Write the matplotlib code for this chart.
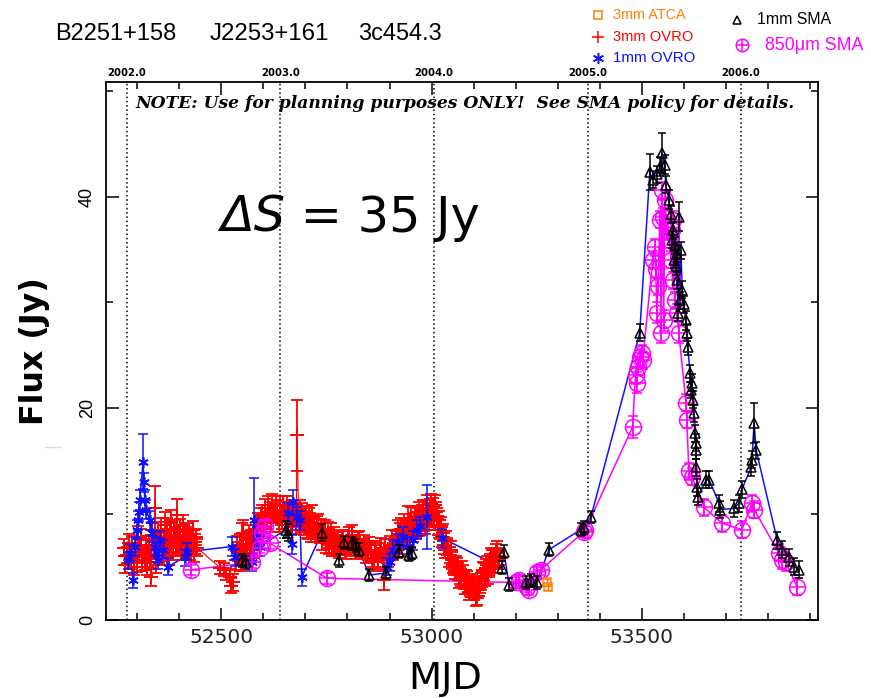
import matplotlib
matplotlib.use('Agg')
import matplotlib.pyplot as plt
from matplotlib.lines import Line2D
from matplotlib.ticker import MultipleLocator
from matplotlib import font_manager
import numpy as np

# ---------------- data ----------------
# 3mm OVRO (red +)
mjd_3mm = [52268, 52272, 52275, 52280, 52283, 52287, 52292, 52295, 52299, 52302, 52304, 52309, 52311, 52314,
           52318, 52320, 52323, 52326, 52328, 52331, 52333, 52335, 52338, 52340, 52342, 52345, 52347, 52350,
           52352, 52356, 52358, 52361, 52364, 52366, 52368, 52371, 52373, 52376, 52378, 52381, 52383, 52385,
           52387, 52390, 52392, 52394, 52397, 52399, 52402, 52404, 52407, 52409, 52411, 52413, 52416, 52418,
           52421, 52423, 52426, 52428, 52432, 52435, 52437, 52440, 52442,
           52497, 52506, 52510, 52520, 52524, 52528, 52535, 52538, 52540, 52544, 52547, 52549, 52552, 52554,
           52558, 52561, 52563, 52566, 52568, 52571, 52573, 52577, 52580, 52583, 52585, 52588,
           52592, 52594, 52597, 52601, 52604, 52606, 52609, 52612, 52616, 52618, 52621, 52624, 52628, 52631,
           52633, 52636, 52639, 52641, 52644, 52646, 52649, 52652, 52656, 52659, 52663, 52666, 52668, 52672,
           52675, 52678, 52680, 52684, 52688, 52691, 52693, 52696, 52698,
           52701, 52703, 52706, 52708, 52710, 52713, 52716, 52718, 52721, 52723, 52727, 52730, 52734, 52737,
           52739, 52742, 52746, 52749, 52751, 52754, 52756, 52758, 52761, 52763, 52765, 52768, 52770, 52775,
           52778, 52780, 52784, 52787, 52790, 52794, 52797, 52801, 52804, 52806, 52811, 52814, 52818, 52821,
           52825, 52828, 52830,
           52837, 52840, 52844, 52848, 52851, 52855, 52858, 52862, 52866, 52869, 52873, 52877, 52880, 52884,
           52887, 52890, 52894, 52897, 52901, 52905, 52909, 52912,
           52915, 52917, 52920, 52922, 52925, 52928, 52930, 52934, 52936, 52939, 52942, 52944, 52946, 52949,
           52951, 52954, 52956, 52958, 52961, 52963, 52966, 52968, 52970, 52972, 52975, 52977, 52980, 52982,
           52985, 52987, 52989, 52991, 52994, 52996, 52998, 53001, 53003, 53006, 53008, 53010, 53013, 53015,
           53018, 53020,
           53023, 53025, 53027, 53029, 53031, 53034, 53036, 53039, 53041, 53044, 53046, 53048, 53051, 53053,
           53056, 53058, 53061, 53063, 53065, 53067, 53070, 53072, 53075, 53077, 53079, 53082, 53084, 53086,
           53088, 53091, 53094, 53096, 53099, 53101, 53103, 53105, 53108, 53110, 53112, 53115, 53117, 53120,
           53122, 53124, 53127, 53129, 53132, 53134, 53136, 53139, 53141, 53143, 53146, 53148, 53151, 53153,
           53156, 53158, 53160]
flux_3mm = [6.8, 5.2, 6.1, 7.2, 5.6, 7.0, 5.0, 6.4, 5.3, 7.8, 6.8, 7.5, 5.4, 6.1,
            5.6, 7.0, 5.0, 6.2, 7.0, 5.8, 4.0, 8.0, 7.6, 6.6, 10.5, 5.2, 7.5, 8.2,
            6.1, 8.5, 6.4, 7.0, 7.6, 8.9, 6.6, 8.6, 7.5, 6.0, 8.0, 9.2, 7.0, 6.4,
            8.5, 7.8, 6.8, 9.9, 7.0, 8.0, 8.6, 7.0, 6.4, 8.8, 8.0, 7.5, 6.6, 8.3,
            7.8, 7.0, 6.4, 7.7, 8.5, 6.2, 7.3, 7.8, 6.8,
            4.9, 4.7, 4.3, 4.0, 3.2, 3.5, 5.6, 6.8, 6.4, 7.0, 5.4, 7.8, 8.2, 6.1,
            6.8, 6.0, 7.5, 8.0, 6.3, 7.6, 7.0, 6.6, 8.0, 8.6, 7.5, 9.2,
            8.9, 9.6, 9.9, 8.6, 10.5, 9.6, 9.4, 10.8, 10.2, 9.2, 10.8, 10.0, 9.9, 10.8,
            10.4, 9.2, 10.8, 9.8, 9.4, 10.8, 10.2, 9.8, 10.6, 10.2, 9.7, 9.0, 10.4, 9.6,
            10.1, 9.0, 17.4, 9.4, 10.4, 9.9, 9.2, 8.9, 9.8,
            9.4, 8.6, 8.5, 9.6, 9.2, 8.2, 9.6, 8.7, 8.8, 8.2, 8.9, 9.0, 8.0, 8.6,
            7.5, 8.2, 8.5, 7.2, 7.7, 8.2, 7.0, 7.6, 8.0, 6.8, 7.2, 7.8, 6.8, 7.5,
            7.2, 6.6, 6.9, 7.7, 7.6, 7.0, 6.5, 7.5, 7.8, 6.8, 8.0, 7.2, 7.0, 6.5,
            7.5, 7.6, 6.6,
            6.8, 7.2, 6.1, 6.4, 7.0, 6.6, 5.8, 5.4, 6.6, 6.2, 5.6, 6.4, 6.8, 5.8,
            3.7, 6.8, 6.1, 5.8, 7.0, 7.6, 6.4, 6.8,
            7.5, 6.8, 8.5, 7.6, 8.0, 8.6, 7.0, 8.9, 7.6, 8.3, 8.6, 9.4, 8.2, 7.7,
            9.6, 8.7, 8.2, 9.2, 9.8, 8.5, 8.8, 9.6, 10.2, 8.9, 9.0, 9.9, 10.4, 9.2,
            9.0, 10.4, 10.8, 9.6, 9.4, 10.5, 11.0, 9.9, 10.6, 9.4, 10.8, 10.2, 9.6, 8.9,
            9.4, 8.5,
            8.8, 7.8, 8.2, 7.0, 6.6, 7.5, 6.9, 6.6, 5.8, 6.1, 6.6, 5.6, 5.2, 5.0,
            4.6, 5.2, 5.0, 4.5, 3.8, 4.2, 4.0, 4.7, 4.4, 3.7, 3.2, 3.9, 3.8, 3.3,
            2.6, 3.0, 2.9, 3.5, 3.2, 2.6, 2.8, 2.1, 2.2, 2.8, 3.0, 3.3, 3.6, 3.9,
            4.6, 4.5, 4.0, 4.9, 5.2, 4.2, 4.8, 5.4, 6.0, 5.8, 5.8, 5.2, 5.2, 6.3,
            6.6, 5.6, 6.0]
err_3mm = [0.8, 0.8, 0.8, 0.9, 0.8, 0.9, 0.8, 0.8, 0.8, 1.0, 0.9, 1.1, 0.8, 0.8,
           0.9, 0.9, 0.8, 0.8, 0.9, 0.9, 0.8, 1.1, 0.9, 0.9, 2.1, 0.8, 0.9, 1.0,
           0.8, 1.1, 0.9, 0.9, 0.9, 1.3, 0.8, 1.0, 0.9, 0.8, 1.1, 1.2, 0.8, 0.8,
           0.9, 0.9, 0.8, 1.5, 0.9, 0.9, 0.9, 0.8, 0.8, 1.1, 0.9, 0.9, 0.8, 0.8,
           0.9, 0.8, 0.8, 0.9, 0.8, 0.8, 0.8, 0.8, 0.8,
           0.6, 0.6, 0.6, 0.8, 0.7, 0.8, 0.9, 1.1, 0.9, 1.1, 0.8, 1.3, 1.2, 0.8,
           0.9, 0.8, 0.9, 0.9, 0.8, 0.9, 0.9, 0.8, 0.9, 0.9, 0.8, 0.9,
           0.9, 0.9, 0.9, 0.9, 0.9, 0.9, 0.8, 0.9, 0.9, 0.9, 1.1, 0.9, 0.8, 0.9,
           0.9, 0.9, 0.9, 0.9, 0.8, 0.9, 0.9, 0.9, 1.1, 0.9, 0.9, 0.9, 0.9, 0.9,
           0.9, 0.9, 3.4, 0.9, 0.9, 1.1, 0.9, 0.9, 0.9,
           0.9, 0.9, 0.9, 0.9, 0.9, 0.9, 1.2, 1.1, 0.9, 0.9, 0.9, 1.0, 0.8, 0.9,
           0.9, 0.9, 0.9, 0.9, 0.9, 1.0, 0.8, 0.9, 1.1, 0.8, 0.9, 0.9, 0.8, 0.8,
           0.8, 0.8, 0.8, 0.8, 0.8, 0.8, 0.8, 0.9, 0.9, 0.8, 0.9, 0.8, 0.8, 0.8,
           0.8, 0.8, 0.8,
           0.8, 0.8, 0.8, 0.8, 0.8, 0.8, 0.8, 0.8, 0.8, 0.8, 0.8, 0.8, 0.9, 0.8,
           0.9, 0.8, 0.8, 0.8, 0.9, 0.9, 0.8, 0.9,
           0.9, 0.9, 0.9, 0.9, 1.1, 1.0, 0.8, 1.1, 0.9, 0.9, 0.9, 1.3, 0.9, 0.9,
           1.0, 0.9, 0.9, 0.9, 0.9, 0.8, 0.9, 0.9, 0.9, 0.9, 0.9, 0.9, 0.9, 0.8,
           0.9, 0.9, 1.0, 0.9, 0.9, 0.9, 0.9, 1.1, 0.9, 0.9, 1.0, 0.9, 0.9, 0.9,
           0.9, 0.9,
           0.9, 0.9, 0.8, 0.8, 0.8, 0.9, 0.8, 0.8, 0.8, 0.8, 0.8, 0.8, 0.8, 0.8,
           0.8, 0.8, 0.8, 0.8, 0.8, 0.8, 0.8, 0.8, 0.8, 0.8, 0.8, 0.8, 0.8, 0.8,
           0.8, 0.8, 0.8, 0.8, 0.8, 0.8, 0.8, 0.8, 0.8, 0.8, 0.8, 0.8, 0.8, 0.8,
           0.8, 0.8, 0.8, 0.8, 0.8, 0.8, 0.8, 0.8, 0.8, 0.8, 0.8, 0.8, 0.8, 0.8,
           0.8, 0.8, 0.8]

# 1mm OVRO (blue *)
mjd_1mm_ovro = [52278, 52283, 52290, 52295, 52299, 52302, 52304, 52306, 52314, 52316, 52318, 52321, 52330,
                52335, 52342, 52347, 52349, 52354, 52361, 52373, 52413, 52418, 52525, 52532, 52573, 52577,
                52585, 52592, 52658, 52668, 52670, 52680, 52687, 52691, 52894, 52901, 52909, 52920, 52932,
                52942, 52956, 52965, 52972, 52989, 53025]
flux_1mm_ovro = [5.6, 6.3, 3.7, 6.9, 8.5, 9.4, 10.2, 11.3, 14.9, 13.0, 11.3, 10.4, 9.4,
                 8.2, 6.9, 6.3, 5.6, 7.5, 6.6, 5.0, 5.9, 6.4, 6.9, 5.9, 5.4, 9.4,
                 7.8, 6.9, 10.1, 7.1, 11.1, 9.7, 9.4, 4.0, 5.0, 5.4, 6.6, 7.2, 7.8,
                 6.9, 7.5, 8.5, 8.8, 9.7, 7.7]
err_1mm_ovro = [0.8, 0.8, 0.7, 0.9, 0.9, 0.9, 0.9, 0.9, 2.6, 0.9, 0.9, 0.9, 0.9,
                0.9, 0.9, 0.9, 0.8, 0.9, 0.9, 0.8, 0.8, 0.8, 0.9, 0.8, 0.8, 4.0,
                0.9, 0.9, 0.9, 0.9, 1.1, 0.9, 0.9, 0.8, 0.8, 0.8, 0.9, 0.9, 0.9,
                0.9, 0.9, 0.9, 0.9, 3.0, 0.9]

# 1mm SMA (black open triangles)
mjd_1mm_sma = [52548, 52558, 52653, 52658, 52739, 52780, 52792, 52811, 52820, 52828, 52851, 52891, 52922,
               52946, 52953, 53167, 53172, 53184, 53224, 53236, 53250, 53279, 53355, 53362, 53379,
               53495, 53519, 53526, 53535, 53543, 53548, 53554, 53557, 53564, 53569, 53571, 53574, 53576,
               53579, 53581, 53583, 53584, 53586, 53588, 53590, 53593, 53596, 53600, 53605, 53607, 53609,
               53615, 53617, 53619, 53622, 53624, 53626, 53628, 53629, 53630, 53631, 53634, 53653, 53660,
               53684, 53686, 53719, 53731, 53738, 53760, 53762, 53767, 53772, 53822, 53834, 53851, 53862, 53874]
flux_1mm_sma = [5.6, 5.4, 8.5, 8.2, 8.2, 5.6, 7.3, 7.2, 7.0, 6.6, 4.2, 4.4, 6.4,
                6.1, 6.3, 4.9, 6.4, 3.3, 3.5, 3.7, 3.5, 6.6, 8.5, 8.7, 9.7,
                27.1, 42.3, 41.6, 42.1, 42.8, 44.1, 43.0, 41.1, 39.7, 38.3, 35.9, 36.8, 34.0,
                35.4, 33.4, 34.6, 32.1, 29.0, 38.1, 30.2, 34.9, 31.2, 29.8, 28.3, 27.1, 25.8,
                23.3, 21.7, 22.4, 20.8, 19.5, 17.6, 16.7, 16.0, 14.4, 12.5, 11.6, 13.2, 13.2,
                11.0, 10.4, 10.5, 11.0, 12.3, 14.4, 15.1, 18.6, 16.0, 7.5, 6.6, 5.9, 5.0, 4.7]
err_1mm_sma = [0.6, 0.6, 0.8, 0.8, 0.8, 0.6, 0.6, 0.6, 0.6, 0.6, 0.6, 0.6, 0.6,
               0.6, 0.6, 0.6, 0.6, 0.6, 0.6, 0.6, 0.6, 0.6, 0.6, 0.6, 0.6,
               0.8, 1.7, 0.8, 0.8, 0.9, 1.9, 0.9, 0.8, 0.9, 0.8, 0.8, 0.8, 0.8,
               0.8, 0.8, 0.8, 0.8, 0.8, 1.4, 0.8, 0.8, 0.8, 0.8, 0.9, 0.8, 0.8,
               0.8, 0.8, 0.8, 0.8, 0.8, 0.8, 0.8, 0.8, 0.8, 0.8, 0.8, 0.8, 0.8,
               0.8, 0.8, 0.8, 0.8, 0.8, 0.8, 0.8, 1.9, 0.8, 0.8, 0.8, 0.8, 0.8, 0.8]

# 850 micron SMA (magenta circled cross)
mjd_850 = [52428, 52572, 52592, 52597, 52604, 52616, 52751, 53200, 53207, 53226, 53231, 53250, 53260,
           53362, 53366, 53478, 53485, 53488, 53490, 53495, 53500, 53502, 53526, 53531, 53533, 53536,
           53538, 53543, 53546, 53548, 53550, 53552, 53555, 53559, 53567, 53569, 53571, 53573, 53574,
           53578, 53583, 53588, 53605, 53607, 53612, 53619, 53648, 53691, 53738, 53762, 53767, 53826,
           53834, 53843, 53869]
flux_850 = [4.7, 5.4, 6.8, 8.2, 8.8, 7.2, 3.9, 3.5, 3.7, 3.1, 2.8, 4.5, 4.7,
            8.3, 8.5, 18.2, 23.1, 22.4, 23.9, 24.8, 25.2, 24.5, 34.0, 35.2, 33.1, 29.0,
            31.5, 37.8, 27.1, 40.6, 38.1, 28.3, 39.7, 36.8, 35.9, 34.0, 36.8, 32.1, 37.8,
            30.2, 29.0, 27.1, 20.5, 18.9, 14.0, 13.5, 10.6, 9.1, 8.5, 11.0, 10.4, 6.3,
            5.6, 5.4, 3.1]
err_850 = [0.5, 0.5, 0.5, 0.5, 0.5, 0.5, 0.5, 0.5, 0.5, 0.5, 0.5, 0.5, 0.5,
           0.5, 0.5, 1.0, 0.8, 1.0, 0.8, 0.8, 0.8, 0.8, 0.8, 0.8, 0.8, 1.0,
           0.8, 0.8, 1.0, 0.8, 0.8, 1.0, 0.8, 0.8, 0.8, 0.8, 0.8, 0.8, 0.8,
           0.8, 0.8, 1.0, 0.8, 0.8, 0.8, 0.8, 0.8, 0.8, 0.8, 0.8, 0.8, 0.8,
           0.8, 0.8, 0.8]

# 3mm ATCA (orange squares)
mjd_atca = [53274, 53276]
flux_atca = [3.5, 3.1]
err_atca = [0.3, 0.3]

# year markers (top axis)
year_mjd = [52275, 52640, 53005, 53371, 53736]
year_labels = ['2002.0', '2003.0', '2004.0', '2005.0', '2006.0']

x_ticks = [52500, 53000, 53500]
y_ticks = [0, 20, 40]

# ---------------- helpers ----------------
def have(name):
    try:
        font_manager.findfont(font_manager.FontProperties(family=name), fallback_to_default=False)
        return True
    except Exception:
        return False

NARROW = 'Liberation Sans Narrow' if have('Liberation Sans Narrow') else 'Liberation Sans'

W, H = 871, 698
fig = plt.figure(figsize=(W / 100, H / 100), dpi=100)

def fx(x):
    return x / W

def fy(y):
    return 1 - y / H

ax = fig.add_axes([fx(105.7), fy(619.5), (818 - 105.7) / W, (619.5 - 82.3) / H])
ax.set_xlim(52225, 53919)
ax.set_ylim(0, 50.8)

RED = '#ff0000'
BLUE = '#1010ff'
MAG = '#ff00ff'
ORANGE = '#ff8000'
ASTER = (6, 2, 0)

# year lines
for m in year_mjd:
    ax.axvline(m, color='black', lw=1.1, ls=(0, (1, 1.8)), zorder=1)

def sorted_xy(x, y):
    o = np.argsort(x, kind='stable')
    return np.asarray(x)[o], np.asarray(y)[o]

# connecting lines
xs, ys = sorted_xy(mjd_3mm, flux_3mm)
ax.plot(xs, ys, color=RED, lw=0.8, zorder=2)
xs, ys = sorted_xy(mjd_1mm_ovro + mjd_1mm_sma, flux_1mm_ovro + flux_1mm_sma)
ax.plot(xs, ys, color=BLUE, lw=1.1, zorder=3)
xs, ys = sorted_xy(mjd_850, flux_850)
ax.plot(xs, ys, color=MAG, lw=1.1, zorder=3)

eb = dict(elinewidth=1.1, capsize=3.5, capthick=1.1)
# 3mm OVRO
ax.errorbar(mjd_3mm, flux_3mm, yerr=err_3mm, fmt='none', ecolor=RED, zorder=4,
            elinewidth=1.3, capsize=4.5, capthick=1.3)
ax.plot(mjd_3mm, flux_3mm, '+', color=RED, ms=10, mew=1.4, ls='none', zorder=4)
# 1mm OVRO
ax.errorbar(mjd_1mm_ovro, flux_1mm_ovro, yerr=err_1mm_ovro, fmt='none', ecolor=BLUE, zorder=5, **eb)
ax.plot(mjd_1mm_ovro, flux_1mm_ovro, ls='none', marker=ASTER, color=BLUE, ms=7.5, mew=1.2, zorder=5)
# 850 SMA
ax.errorbar(mjd_850, flux_850, yerr=err_850, fmt='none', ecolor=MAG, zorder=5, **eb)
ax.plot(mjd_850, flux_850, 'o', color=MAG, mfc='none', ms=11.5, mew=1.1, ls='none', zorder=5)
ax.plot(mjd_850, flux_850, '+', color=MAG, ms=11.5, mew=1.1, ls='none', zorder=5)
# 1mm SMA
ax.errorbar(mjd_1mm_sma, flux_1mm_sma, yerr=err_1mm_sma, fmt='none', ecolor='black', zorder=6,
            elinewidth=1.1, capsize=3, capthick=1.1)
ax.plot(mjd_1mm_sma, flux_1mm_sma, '^', color='black', mfc='none', ms=6.5, mew=1.1, ls='none', zorder=6)
# ATCA
ax.errorbar(mjd_atca, flux_atca, yerr=err_atca, fmt='none', ecolor=ORANGE, zorder=6,
            elinewidth=1.0, capsize=2.5)
ax.plot(mjd_atca, flux_atca, 's', color=ORANGE, mfc='none', ms=6, mew=1.1, ls='none', zorder=6)

# axes styling
for s in ax.spines.values():
    s.set_linewidth(1.3)
ax.set_xticks(x_ticks)
ax.xaxis.set_minor_locator(MultipleLocator(100))
ax.set_yticks(y_ticks)
ax.yaxis.set_minor_locator(MultipleLocator(10))
ax.tick_params(which='both', direction='in', top=True, right=True, width=1.1)
ax.tick_params(which='major', length=9)
ax.tick_params(which='minor', length=5)
ax.tick_params(axis='x', labelsize=14.5, pad=6)
ax.tick_params(axis='y', labelsize=13, pad=7, labelrotation=90)
for lab in ax.get_yticklabels():
    lab.set_fontfamily('Liberation Sans')
    lab.set_va('center')
for lab in ax.get_xticklabels():
    lab.set_color('#222222')

# year labels on top
for m, t in zip(year_mjd, year_labels):
    ax.text(m, 1.0173, t, transform=ax.get_xaxis_transform(), ha='center', va='center',
            fontsize=7.3, fontweight='bold', family='DejaVu Sans')

fig.canvas.draw()
rend = fig.canvas.get_renderer()

def fit(t, target, vertical=False):
    bb = t.get_window_extent(rend)
    cur = bb.height if vertical else bb.width
    t.set_fontsize(t.get_fontsize() * target / cur)

# note line
t = fig.text(fx(135), fy(103), 'NOTE: Use for planning purposes ONLY!  See SMA policy for details.',
             ha='left', va='center', family='DejaVu Serif', style='italic', fontweight='bold', fontsize=11)
fit(t, 655)

# header
for txt, x0, w in [('B2251+158', 55, 122), ('J2253+161', 210, 120), ('3c454.3', 358, 84)]:
    t = fig.text(fx(x0), fy(34), txt, ha='left', va='center', family='Liberation Sans', fontsize=16)
    fit(t, w)

# legend
leg = [(598, 15, 's', ORANGE, '3mm ATCA', 613, 72),
       (598, 37, '+', RED, '3mm OVRO', 613, 80),
       (598, 58, ASTER, BLUE, '1mm OVRO', 613, 82),
       (737, 20, '^', 'black', '1mm SMA', 757, 74),
       (742, 45, 'o', MAG, '850\u03bcm SMA', 765, 98)]
for (mx, my, mk, col, txt, tx, tw) in leg:
    if mk in ('s', '^'):
        ms = 6
    elif mk == 'o':
        ms = 9
    else:
        ms = 8
    fig.add_artist(Line2D([fx(mx)], [fy(my)], marker=mk, color=col, mfc='none', ms=ms, mew=1.1,
                          ls='none', transform=fig.transFigure))
    if mk == 'o':
        fig.add_artist(Line2D([fx(mx)], [fy(my)], marker='+', color=col, ms=9, mew=1.1,
                              ls='none', transform=fig.transFigure))
    t = fig.text(fx(tx), fy(my), txt, ha='left', va='center', color=col, family=NARROW, fontsize=11)
    fit(t, tw)

# axis labels
t = fig.text(fx(445), fy(697), 'MJD', ha='center', va='bottom', family='DejaVu Sans', fontsize=28)
fit(t, 74)
t = fig.text(fx(35), fy(351), 'Flux (Jy)', ha='center', va='center', rotation=90,
             family='DejaVu Sans', fontweight='bold', fontsize=22)
fit(t, 148, vertical=True)

# delta S annotation
t1 = fig.text(fx(220), fy(232), '\u0394S', ha='left', va='baseline', style='italic',
              family='DejaVu Sans', fontsize=35.5)
fig.canvas.draw()
bb = t1.get_window_extent(rend)
t2 = fig.text(bb.x1 / W, fy(232), ' = 35 Jy', ha='left', va='baseline', family='DejaVu Sans', fontsize=35.5)

# faint artifact next to y label
fig.add_artist(Line2D([fx(45), fx(60)], [fy(447), fy(447)], color='#dddddd', lw=1,
                      transform=fig.transFigure))

fig.savefig('out.png', dpi=100)
